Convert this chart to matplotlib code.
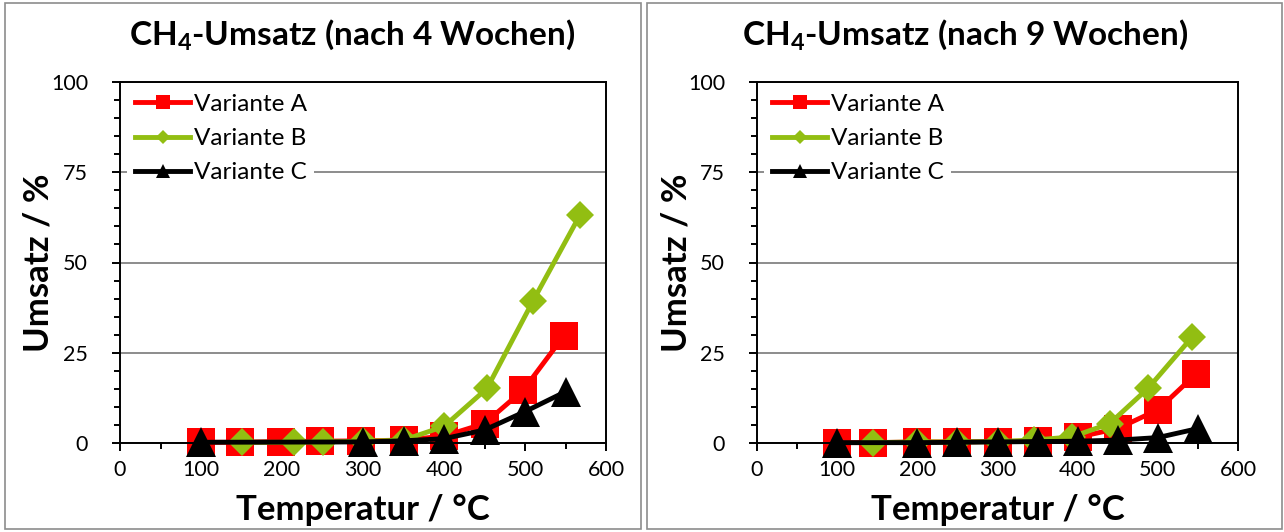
#!/usr/bin/env python3
"""CH4-Umsatz nach 4 und 9 Wochen - zwei Panels nebeneinander."""

import matplotlib.pyplot as plt
from matplotlib.patches import Rectangle
from matplotlib.ticker import MultipleLocator

# --- data ----------------------------------------------------------------
# nach 4 Wochen
a_x_4 = [100, 148, 199, 247, 298, 350, 400, 450, 498, 548]
a_y_4 = [0.2, 0.2, 0.4, 0.5, 0.6, 0.8, 1.9, 5.4, 14.7, 29.7]
b_x_4 = [150, 215, 250, 300, 350, 400, 453, 510, 568]
b_y_4 = [0.2, 0.2, 0.3, 0.5, 0.8, 4.6, 15.1, 39.4, 63.2]
c_x_4 = [100, 300, 350, 400, 450, 500, 550]
c_y_4 = [0.2, 0.3, 0.6, 1.2, 3.6, 8.7, 14.2]

# nach 9 Wochen
a_x_9 = [100, 145, 200, 250, 300, 350, 400, 450, 500, 547]
a_y_9 = [0.1, 0.1, 0.3, 0.3, 0.4, 0.6, 1.6, 4.0, 9.2, 19.0]
b_x_9 = [145, 200, 250, 300, 345, 393, 440, 488, 543]
b_y_9 = [0.1, 0.3, 0.3, 0.4, 0.8, 1.7, 5.4, 15.2, 29.4]
c_x_9 = [100, 200, 250, 300, 350, 400, 450, 500, 550]
c_y_9 = [0.1, 0.1, 0.2, 0.3, 0.4, 0.5, 0.8, 1.5, 4.0]

labels = ["Variante A", "Variante B", "Variante C"]
titles = ["CH$_4$-Umsatz (nach 4 Wochen)", "CH$_4$-Umsatz (nach 9 Wochen)"]

RED = "#ff0000"
GREEN = "#92be12"
BLACK = "#000000"
GRID = "#8c8c8c"

W, H = 1284, 532
FONT = ["Lato", "DejaVu Sans"]
plt.rcParams["font.family"] = FONT
plt.rcParams["mathtext.default"] = "regular"


def px_box(x0, y0, x1, y1):
    return [x0 / W, 1 - y1 / H, (x1 - x0) / W, (y1 - y0) / H]


def draw_panel(fig, box, series, title, title_x):
    ax = fig.add_axes(px_box(*box))
    styles = [(RED, "s", 20.5), (GREEN, "D", 14.5), (BLACK, "^", 21.5)]
    for (xs, ys), (col, mk, ms), lab in zip(series, styles, labels):
        ax.plot(xs, ys, color=col, lw=3.5, marker=mk, ms=ms, mew=0,
                label=lab, solid_joinstyle="round", clip_on=False)

    ax.set_xlim(0, 600)
    ax.set_ylim(0, 100)
    ax.xaxis.set_major_locator(MultipleLocator(100))
    ax.xaxis.set_minor_locator(MultipleLocator(50))
    ax.yaxis.set_major_locator(MultipleLocator(25))
    ax.yaxis.set_minor_locator(MultipleLocator(5))
    ax.tick_params(which="major", direction="out", length=6, width=1.4,
                   labelsize=15.5, color="black")
    ax.tick_params(which="minor", direction="out", length=4.5, width=1.4)
    ax.tick_params(axis="y", pad=17)
    ax.tick_params(axis="x", pad=6)
    for sp in ax.spines.values():
        sp.set_linewidth(1.4)
    ax.grid(axis="y", which="major", color=GRID, lw=1.4)
    ax.set_axisbelow(True)

    ax.set_xlabel("Temperatur / °C", fontsize=25, fontweight="bold")
    ax.set_ylabel("Umsatz / %", fontsize=25, fontweight="bold")
    ax.xaxis.set_label_coords(0.5, -0.14)
    ax.yaxis.set_label_coords(-0.134, 0.5)

    leg = ax.legend(loc="upper left", bbox_to_anchor=(0.0, 1.008), fontsize=17.5,
                    frameon=True, facecolor="white", edgecolor="none",
                    framealpha=1, markerscale=0.5, handlelength=2.3,
                    handletextpad=0.15, labelspacing=0.55, borderpad=0.3,
                    borderaxespad=0.3)
    leg.get_frame().set_linewidth(0)

    fig.text(title_x / W, 1 - 35 / H, title, fontsize=24, fontweight="bold",
             ha="center", va="center")
    return ax


def main() -> None:
    fig = plt.figure(figsize=(W / 100, H / 100), dpi=100)

    # gray chart-area frames
    for x0, x1 in [(5, 641), (647, 1282)]:
        fig.patches.append(Rectangle((x0 / W, 3 / H), (x1 - x0) / W, (529 - 3) / H,
                                     transform=fig.transFigure, fill=False,
                                     edgecolor=GRID, lw=1.2))

    draw_panel(fig, (120, 82, 606, 443),
               [(a_x_4, a_y_4), (b_x_4, b_y_4), (c_x_4, c_y_4)], titles[0], 352)
    draw_panel(fig, (757, 82, 1238, 443),
               [(a_x_9, a_y_9), (b_x_9, b_y_9), (c_x_9, c_y_9)], titles[1], 965)

    fig.savefig("out.png", dpi=100)


if __name__ == "__main__":
    main()
